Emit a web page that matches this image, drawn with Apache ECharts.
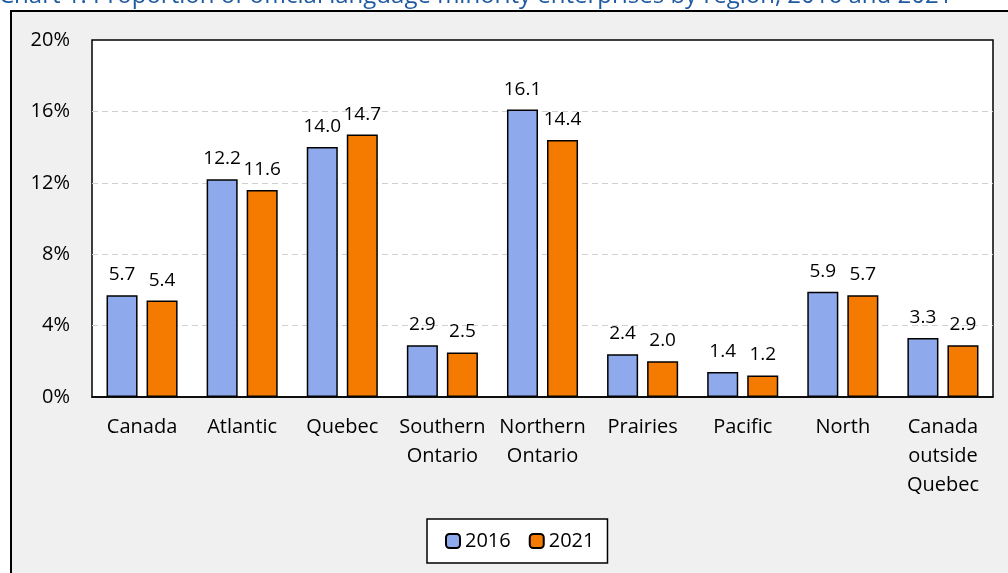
<!DOCTYPE html>
<html>
<head>
<meta charset="utf-8">
<script src="https://cdn.jsdelivr.net/npm/echarts@6/dist/echarts.min.js"></script>
<style>
  html, body { margin: 0; padding: 0; background: #fff; }
  #chart { width: 1008px; height: 573px; }
</style>
</head>
<body>
<div id="chart"></div>
<script>
const categories = ['Canada', 'Atlantic', 'Quebec', 'Southern\nOntario', 'Northern\nOntario',
  'Prairies', 'Pacific', 'North', 'Canada\noutside\nQuebec'];
const values2016 = [5.7, 12.2, 14.0, 2.9, 16.1, 2.4, 1.4, 5.9, 3.3];
const values2021 = [5.4, 11.6, 14.7, 2.5, 14.4, 2.0, 1.2, 5.7, 2.9];
const yTicks = [0, 4, 8, 12, 16, 20];

const font = '"Open Sans", sans-serif';
const chart = echarts.init(document.getElementById('chart'));

const labelStyle = {
  show: true,
  position: 'top',
  distance: 11,
  color: '#000',
  fontSize: 19,
  fontFamily: font,
  formatter: p => p.value.toFixed(1)
};

chart.setOption({
  animation: false,
  graphic: [
    {
      type: 'rect', z: -10, silent: true,
      shape: { x: 11, y: 11, width: 1010, height: 600 },
      style: { fill: '#f0f0f0', stroke: '#000', lineWidth: 2 }
    },
    {
      type: 'text', z: 10, left: -1, top: -16,
      style: {
        text: 'Chart 1: Proportion of official language minority enterprises by region, 2016 and 2021',
        fill: '#1f5aa0', fontSize: 24, fontFamily: font
      }
    }
  ],
  grid: {
    left: 92, right: 15, top: 40, bottom: 176,
    show: true, backgroundColor: '#fff', borderColor: '#000', borderWidth: 1.5,
    containLabel: false
  },
  legend: {
    bottom: 10, left: 427,
    backgroundColor: '#fff', borderColor: '#000', borderWidth: 1.5,
    padding: [12, 13, 12, 18],
    itemWidth: 14, itemHeight: 14, itemGap: 18,
    textStyle: { fontSize: 20, fontFamily: font, color: '#000' },
    data: ['2016', '2021']
  },
  xAxis: {
    type: 'category',
    data: categories,
    axisLine: { lineStyle: { color: '#000', width: 1.5 } },
    axisTick: { show: false },
    axisLabel: { color: '#000', fontSize: 20, fontFamily: font, margin: 16, lineHeight: 29, interval: 0 }
  },
  yAxis: {
    type: 'value',
    min: yTicks[0], max: yTicks[yTicks.length - 1], interval: 4,
    axisLine: { show: false },
    axisTick: { show: false },
    axisLabel: { color: '#000', fontSize: 20, fontFamily: font, margin: 22, formatter: '{value}%' },
    splitLine: { showMinLine: false, showMaxLine: false, lineStyle: { color: '#d0d0d0', type: [6, 4], width: 1.2 } }
  },
  series: [
    {
      name: '2016', type: 'bar', data: values2016,
      barWidth: '31%', barGap: '29%',
      itemStyle: { color: '#8eaaec', borderColor: '#000', borderWidth: 1.5 },
      label: labelStyle
    },
    {
      name: '2021', type: 'bar', data: values2021,
      barWidth: '31%',
      itemStyle: { color: '#f57b00', borderColor: '#000', borderWidth: 1.5 },
      label: labelStyle
    }
  ]
});
</script>
</body>
</html>
